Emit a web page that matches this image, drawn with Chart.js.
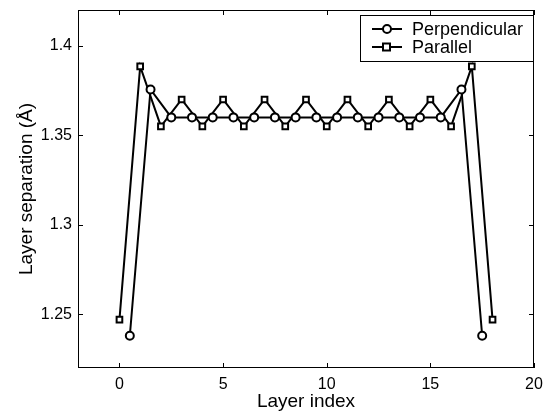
<!DOCTYPE html>
<html>
<head>
<meta charset="utf-8">
<script src="https://cdn.jsdelivr.net/npm/chart.js@4"></script>
<style>
  html, body { margin: 0; padding: 0; background: #fff; }
  #wrap { width: 551px; height: 413px; }
</style>
</head>
<body>
<div id="wrap"><canvas id="myChart" width="551" height="413"></canvas></div>
<script>
// layer positions
var parallelIndex = [0, 1, 2, 3, 4, 5, 6, 7, 8, 9, 10, 11, 12, 13, 14, 15, 16, 17, 18];
var perpIndex = [0.5, 1.5, 2.5, 3.5, 4.5, 5.5, 6.5, 7.5, 8.5, 9.5, 10.5, 11.5, 12.5, 13.5, 14.5, 15.5, 16.5, 17.5];

// layer separations (Å)
var parallelValues = [1.247, 1.3885, 1.355, 1.37, 1.355, 1.37, 1.355, 1.37, 1.355, 1.37,
                      1.355, 1.37, 1.355, 1.37, 1.355, 1.37, 1.355, 1.3885, 1.247];
var perpValues = [1.238, 1.3756, 1.36, 1.36, 1.36, 1.36, 1.36, 1.36, 1.36, 1.36,
                  1.36, 1.36, 1.36, 1.36, 1.36, 1.36, 1.3756, 1.238];

var xTicks = [0, 5, 10, 15, 20];
var yTicks = [1.25, 1.3, 1.35, 1.4];
var yTickLabels = ['1.25', '1.3', '1.35', '1.4'];

var FONT = '"Liberation Sans", Arial, Helvetica, sans-serif';

function toPoints(xs, ys) {
    var pts = [];
    for (var i = 0; i < xs.length; i++) pts.push({x: xs[i], y: ys[i]});
    return pts;
}

// box, inward ticks and legend like the original figure
var frame = {
    id: 'frame',
    afterDatasetsDraw: function(chart) {
        var c = chart.ctx, a = chart.chartArea;
        var xs = chart.scales.x, ys = chart.scales.y;
        c.save();
        c.strokeStyle = '#000';
        c.lineWidth = 1;
        c.strokeRect(a.left + 0.5, a.top + 0.5, a.right - a.left - 1, a.bottom - a.top - 1);
        c.beginPath();
        xTicks.forEach(function(v) {
            var px = Math.round(xs.getPixelForValue(v)) + 0.5;
            c.moveTo(px, a.bottom); c.lineTo(px, a.bottom - 5);
            c.moveTo(px, a.top); c.lineTo(px, a.top + 5);
        });
        yTicks.forEach(function(v) {
            var py = Math.round(ys.getPixelForValue(v)) + 0.5;
            c.moveTo(a.left, py); c.lineTo(a.left + 5, py);
            c.moveTo(a.right, py); c.lineTo(a.right - 5, py);
        });
        c.stroke();

        // legend
        var bx = a.right - 174, by = a.top + 5, bw = 173, bh = 46;
        c.fillStyle = '#fff';
        c.fillRect(bx, by, bw, bh);
        c.strokeRect(bx + 0.5, by + 0.5, bw, bh);
        c.font = '18px ' + FONT;
        c.textBaseline = 'middle';
        chart.data.datasets.forEach(function(ds, i) {
            var ly = by + 14 + i * 18;
            c.beginPath();
            c.lineWidth = 2;
            c.moveTo(bx + 12, ly); c.lineTo(bx + 42, ly);
            c.stroke();
            c.lineWidth = 2;
            c.fillStyle = '#fff';
            if (ds.pointStyle === 'rect') {
                c.fillRect(bx + 23, ly - 3.5, 7, 7);
                c.strokeRect(bx + 23, ly - 3.5, 7, 7);
            } else {
                c.beginPath();
                c.arc(bx + 27, ly, 4, 0, Math.PI * 2);
                c.fill(); c.stroke();
            }
            c.fillStyle = '#000';
            c.fillText(ds.label, bx + 52, ly + 1);
        });
        c.restore();
    }
};

var ctx = document.getElementById('myChart');
var myChart = new Chart(ctx, {
    type: 'scatter',
    data: {
        datasets: [{
            label: 'Perpendicular',
            data: toPoints(perpIndex, perpValues),
            showLine: true,
            borderColor: '#000',
            borderWidth: 2,
            pointStyle: 'circle',
            pointRadius: 4,
            pointBorderWidth: 2,
            pointBackgroundColor: '#fff',
            pointBorderColor: '#000'
        }, {
            label: 'Parallel',
            data: toPoints(parallelIndex, parallelValues),
            showLine: true,
            borderColor: '#000',
            borderWidth: 2,
            pointStyle: 'rect',
            pointRadius: 4,
            pointBorderWidth: 2,
            pointBackgroundColor: '#fff',
            pointBorderColor: '#000'
        }]
    },
    options: {
        responsive: false,
        animation: false,
        layout: { padding: { left: 0, right: 17, top: 10, bottom: 0 } },
        plugins: {
            legend: { display: false },
            tooltip: { enabled: false }
        },
        scales: {
            x: {
                type: 'linear',
                min: -2,
                max: 20,
                afterBuildTicks: function(s) { s.ticks = xTicks.map(function(v) { return {value: v}; }); },
                afterFit: function(s) { s.height = 45; s.paddingLeft = 0; s.paddingRight = 0; },
                grid: { drawOnChartArea: false, drawTicks: false },
                border: { display: false },
                ticks: { color: '#000', padding: 7, font: { family: FONT, size: 16 } },
                title: {
                    display: true,
                    text: 'Layer index',
                    color: '#000',
                    padding: { top: 0, bottom: 0 },
                    font: { family: FONT, size: 19 }
                }
            },
            y: {
                type: 'linear',
                min: 1.22,
                max: 1.42,
                afterBuildTicks: function(s) { s.ticks = yTicks.map(function(v) { return {value: v}; }); },
                afterFit: function(s) { s.width = 78; s.paddingTop = 0; s.paddingBottom = 0; },
                grid: { drawOnChartArea: false, drawTicks: false },
                border: { display: false },
                ticks: {
                    color: '#000',
                    padding: 6,
                    font: { family: FONT, size: 16 },
                    callback: function(v, i) { return yTickLabels[i]; }
                },
                title: {
                    display: true,
                    text: 'Layer separation (Å)',
                    color: '#000',
                    padding: { top: 15, bottom: 0 },
                    font: { family: FONT, size: 19 }
                }
            }
        }
    },
    plugins: [frame]
});
</script>
</body>
</html>
